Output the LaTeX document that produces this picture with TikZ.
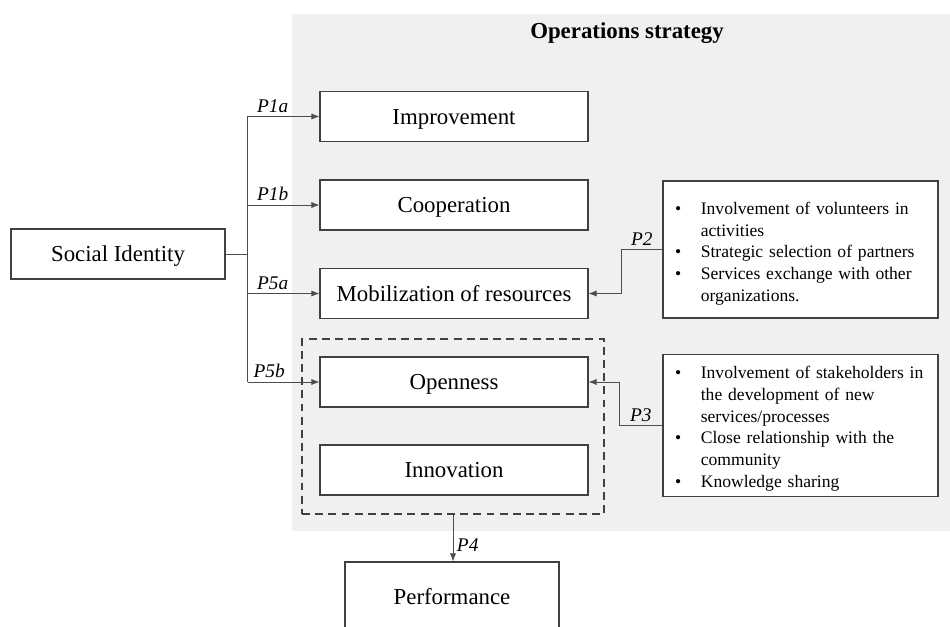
\documentclass[tikz,border=0pt]{standalone}
\usepackage{fontspec}
\setmainfont{Liberation Serif}
\usetikzlibrary{arrows.meta}
\definecolor{opsgray}{HTML}{F0F0F0}
\definecolor{edgegray}{HTML}{404040}

\begin{document}
\begin{tikzpicture}
\tikzstyle{box}=[draw=edgegray,line width=0.7pt,fill=white,minimum width=5.36cm,minimum height=1cm,text height=8.6pt,text depth=0pt,font=\fontsize{13}{15}\selectfont];
\tikzstyle{lst}=[draw=edgegray,line width=0.7pt,fill=white,text width=5.02cm,inner xsep=0.24cm,minimum height=2.74cm,font=\fontsize{10}{12.3}\selectfont];
\tikzstyle{plab}=[above,font=\fontsize{11}{13}\selectfont\itshape,inner sep=2pt];
\tikzstyle{link}=[-{Latex[length=4.5pt,width=3.5pt]},draw=black!70,line width=0.5pt];
\useasboundingbox (0,0) rectangle (19,12.52);
\clip (0,0) rectangle (19,12.52);
\fill[opsgray] (5.84,1.90) rectangle (19,12.24);
\node[font=\fontsize{13}{15}\selectfont\bfseries] (title) at (12.54,11.86) {Operations strategy};

\node [box,minimum width=4.28cm] (si) at (2.36,7.44) {Social Identity};
\node [box] (imp) at (9.08,10.19) {Improvement};
\node [box] (coop) at (9.08,8.42) {Cooperation};
\node [box] (mob) at (9.08,6.65) {Mobilization of resources};
\node [draw=edgegray,dashed,dash pattern=on 4.5pt off 3pt,line width=0.7pt,minimum width=6.04cm,minimum height=3.5cm] (grp) at (9.06,3.99) {};
\node [box] (open) at (9.08,4.88) {Openness};
\node [box] (inno) at (9.08,3.12) {Innovation};
\node [box,minimum width=4.28cm,minimum height=1.4cm] (perf) at (9.04,0.58) {Performance};

\node [lst] (l2) at (16.01,7.53) {\noindent\raisebox{-2.3pt}[\height][\depth]{\begin{tabular}{@{}p{14.7pt}@{}l@{}}
\textbullet & Involvement of volunteers in\\
 & activities\\
\textbullet & Strategic selection of partners\\
\textbullet & Services exchange with other\\
 & organizations.
\end{tabular}}};
\node [lst] (l3) at (16.01,4.01) {\noindent\raisebox{-1.8pt}[\height][\depth]{\begin{tabular}{@{}p{14.7pt}@{}l@{}}
\textbullet & Involvement of stakeholders in\\
 & the development of new\\
 & services/processes\\
\textbullet & Close relationship with the\\
 & community\\
\textbullet & Knowledge sharing
\end{tabular}}};

% branches out of Social Identity
\draw [draw=black!70,line width=0.5pt] (si.east) -- ++(0.44,0) coordinate (br);
\draw [draw=black!70,line width=0.5pt] (br |- imp.west) -- (br |- open.west);
\draw [link] (br |- imp.west) -- node[plab,pos=0.35] {P1a} (imp.west);
\draw [link] (br |- coop.west) -- node[plab,pos=0.35] {P1b} (coop.west);
\draw [link] (br |- mob.west) -- node[plab,pos=0.35] {P5a} (mob.west);
\draw [link] (br |- open.west) -- node[plab,pos=0.3] {P5b} (open.west);

\draw [link] (l2.west) -- node[plab] {P2} ++(-0.82,0) |- (mob.east);
\draw [link] (l3.west) -- node[plab] {P3} ++(-0.86,0) |- (open.east);
\draw [link] (grp.south) -- node[plab,right,pos=0.65] {P4} (grp.south |- perf.north);
\end{tikzpicture}
\end{document}
